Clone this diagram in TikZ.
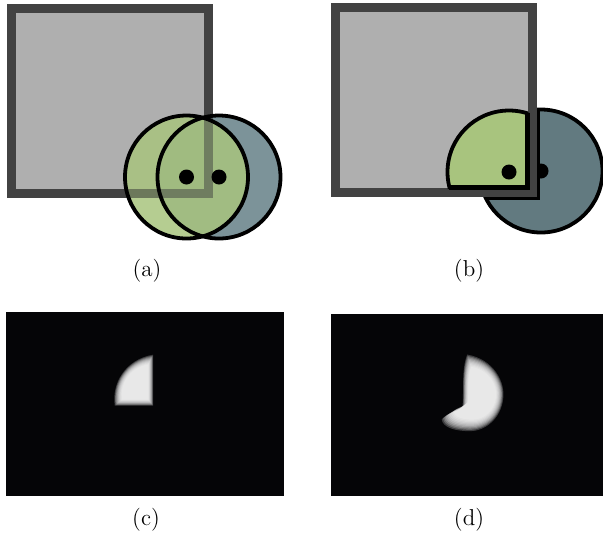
\documentclass[tikz,border=0pt]{standalone}
\usepackage{tikz}
\definecolor{sqfill}{HTML}{AFAFAF}
\definecolor{sqedge}{HTML}{424242}
\definecolor{leafgreen}{HTML}{A8C47E}
\definecolor{slateblue}{HTML}{6E878E}
\definecolor{slatedark}{HTML}{627A80}
\definecolor{nearblack}{HTML}{050507}
\def\blobc{(151,359) -- (151,403) -- (118,403) .. controls (115,384) and (127,363) .. (151,359) -- cycle}
\def\blobd{(469,360) .. controls (492,364) and (502,384) .. (500,398) .. controls (498,415) and (485,426) .. (471,426) .. controls (459,426) and (448,423) .. (447,416) .. controls (451,410) and (462,410) .. (465,404) .. controls (466,390) and (464,372) .. (469,360) -- cycle}

\begin{document}
\begin{tikzpicture}[x=0.5pt, y=-0.5pt,
  frame/.style={draw=sqedge, fill=sqfill, line width=4.5pt},
  rim/.style={draw=black, line width=1.9pt},
  eye/.style={fill=black},
  caption/.style={font=\fontsize{11.5}{13}\selectfont, inner sep=0pt}]
  \useasboundingbox (0,0) rectangle (603,538);

  % (a) two overlapping circles over the square
  \coordinate (al) at (186.5,177);
  \coordinate (ar) at (219,177);
  \draw[frame] (11.5,8.5) rectangle (208.5,193.5);
  \fill[slateblue, opacity=0.9] (ar) circle (61.5);
  \fill[leafgreen, opacity=0.85] (al) circle (61.5);
  \draw[sqedge, line width=4.5pt, draw opacity=0.5] (11.5,8.5) rectangle (208.5,193.5);
  \draw[rim] (ar) circle (61.5);
  \draw[rim] (al) circle (61.5);
  \fill[eye] (al) circle (7.5);
  \fill[eye] (ar) circle (7.5);

  % (b) circles cut by the square
  \coordinate (bg) at (509,172);
  \coordinate (bb) at (541,171);
  \filldraw[fill=slatedark, rim] (bb) circle (61.5);
  \fill[eye] (bb) circle (7.5);
  \draw[frame] (335.5,7.5) rectangle (532.5,192.5);
  \begin{scope}
    \clip (bb) circle (61.5);
    \draw[rim, line width=1.9pt] (331,3) rectangle (538.5,198.5);
  \end{scope}
  \begin{scope}
    \clip (340,12) rectangle (528,188);
    \fill[leafgreen] (bg) circle (61.5);
    \draw[rim] (bg) circle (61.5);
  \end{scope}
  \begin{scope}
    \clip (bg) circle (62.5);
    \draw[rim, line width=2.1pt] (340,12) rectangle (527.5,187.5);
  \end{scope}
  \fill[eye] (bg) circle (7.5);

  % (c) and (d) blurred masks
  \fill[nearblack] (6,312) rectangle (284,496);
  \fill[nearblack] (331,314) rectangle (603,496);
  \foreach \s in {1.16,1.12,1.08,1.04,1.0,0.96,0.92,0.88,0.84,0.80}{
    \begin{scope}[shift={(138,386)}, scale=\s, shift={(-138,-386)}]
      \fill[white, opacity=0.22] \blobc;
    \end{scope}
    \begin{scope}[shift={(480,394)}, scale=\s, shift={(-480,-394)}]
      \fill[white, opacity=0.22] \blobd;
    \end{scope}
  }

  \node[caption] (capa) at (147,271) {(a)};
  \node[caption] (capb) at (469,271) {(b)};
  \node[caption] (capc) at (146,520) {(c)};
  \node[caption] (capd) at (469,520) {(d)};
\end{tikzpicture}
\end{document}
